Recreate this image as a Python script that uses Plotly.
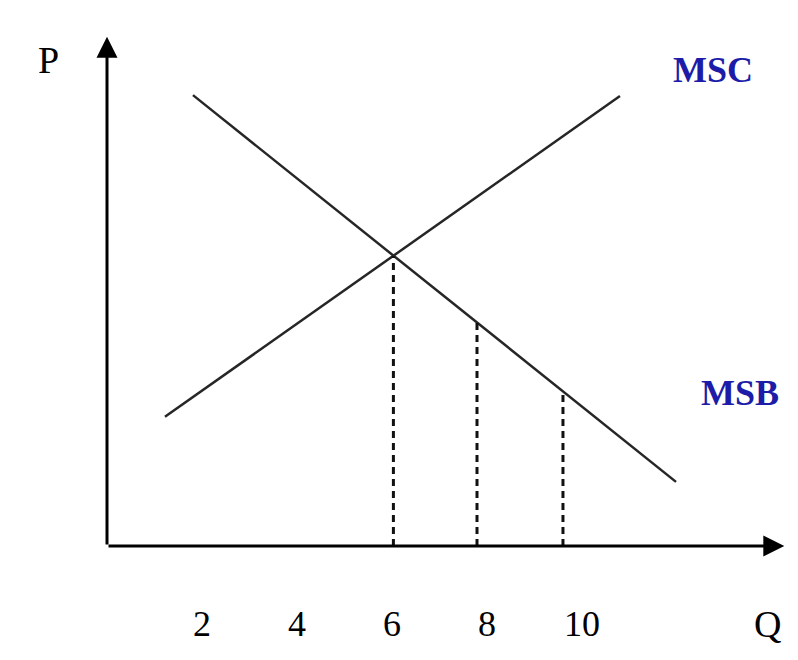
import plotly.graph_objects as go

# demand / cost curves (Q, P)
msb_q = [1.81, 11.98]
msb_p = [9.49, 1.35]
msc_q = [1.22, 10.8]
msc_p = [2.72, 9.47]

# dashed drop lines from MSB down to the Q axis
drop_q = [6.03, 7.79, 9.6]
drop_p = [6.10, 4.70, 3.26]

tick_vals = [2, 4, 6, 8, 10]
tick_text = ["2", "4", "6", "8", "10"]

x_range = [0, 14.38]
y_range = [0, 10.84]

serif = "Liberation Serif, Times New Roman, serif"
blue = "#1c1ca8"

fig = go.Figure()

fig.add_trace(go.Scatter(x=msb_q, y=msb_p, mode="lines",
                         line=dict(color="#262626", width=2.5), name="MSB"))
fig.add_trace(go.Scatter(x=msc_q, y=msc_p, mode="lines",
                         line=dict(color="#262626", width=2.5), name="MSC"))

for q, p in zip(drop_q, drop_p):
    fig.add_trace(go.Scatter(x=[q, q], y=[0, p], mode="lines",
                             line=dict(color="#111", width=3, dash="7px,5px")))

# axes with arrow heads (head pokes a little past the end point)
fig.add_annotation(x=x_range[1] - 0.12, y=0, ax=0, ay=0, xref="x", yref="y",
                   axref="x", ayref="y", showarrow=True, arrowhead=2,
                   arrowsize=1.4, arrowwidth=3, arrowcolor="black", text="")
fig.add_annotation(x=0, y=y_range[1] - 0.12, ax=0, ay=0, xref="x", yref="y",
                   axref="x", ayref="y", showarrow=True, arrowhead=2,
                   arrowsize=1.4, arrowwidth=3, arrowcolor="black", text="")

fig.add_annotation(x=-0.104, y=0.988, xref="paper", yref="paper", text="P",
                   showarrow=False, font=dict(family=serif, size=38, color="black"))
fig.add_annotation(x=0.99, y=-0.196, xref="paper", yref="paper", text="Q",
                   showarrow=False, font=dict(family=serif, size=38, color="black"))
fig.add_annotation(x=12.76, y=10.02, text="<b>MSC</b>", showarrow=False,
                   font=dict(family=serif, size=36, color=blue))
fig.add_annotation(x=13.33, y=3.22, text="<b>MSB</b>", showarrow=False,
                   font=dict(family=serif, size=36, color=blue))

fig.update_layout(
    width=798, height=660,
    margin=dict(l=99, r=16, t=23, b=122, autoexpand=False),
    plot_bgcolor="white", paper_bgcolor="white",
    showlegend=False,
    xaxis=dict(range=x_range, showgrid=False, zeroline=False, showline=False,
               automargin=False,
               tickvals=tick_vals, ticktext=tick_text, ticks="outside",
               ticklen=46, tickcolor="rgba(0,0,0,0)",
               tickfont=dict(family=serif, size=36, color="black")),
    yaxis=dict(range=y_range, showgrid=False, zeroline=False, showline=False,
               automargin=False, showticklabels=False),
)

fig.write_html("out.html")
